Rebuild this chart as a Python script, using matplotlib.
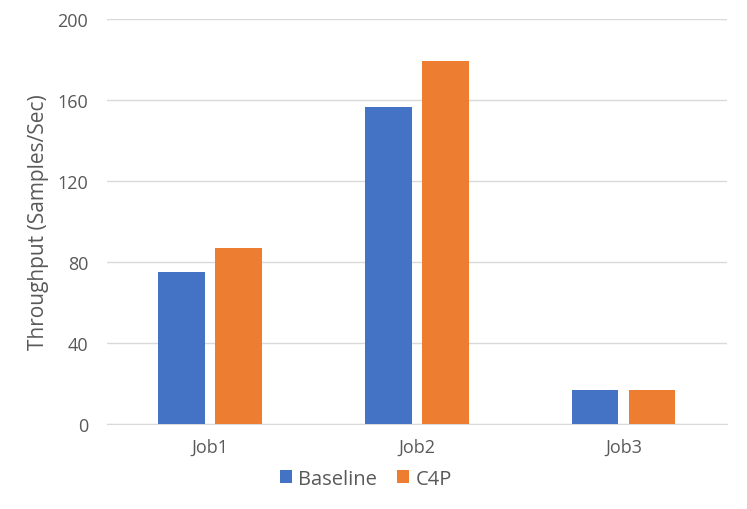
import numpy as np
import matplotlib.pyplot as plt

jobs = ['Job1', 'Job2', 'Job3']
baseline = [75, 156.5, 16.7]
c4p = [87, 179, 16.7]
yticks = [0, 40, 80, 120, 160, 200]

plt.rcParams['font.family'] = ['Open Sans', 'DejaVu Sans']
text_color = '#595959'

fig = plt.figure(figsize=(7.47, 5.1), dpi=100)
ax = fig.add_axes([0.143, 0.167, 0.830, 0.794])

x = np.arange(len(jobs))
w = 0.227
ax.bar(x - 0.138, baseline, w, color='#4472C4', label='Baseline', zorder=3)
ax.bar(x + 0.138, c4p, w, color='#ED7D31', label='C4P', zorder=3)

ax.set_xlim(-0.5, 2.5)
ax.set_ylim(0, 200)
ax.set_yticks(yticks)
ax.set_xticks(x, jobs)
ax.grid(axis='y', color='#D9D9D9', linewidth=1, zorder=0)
for side in ['top', 'right', 'left']:
    ax.spines[side].set_visible(False)
ax.spines['bottom'].set_color('#D9D9D9')
ax.tick_params(axis='both', length=0, colors=text_color, labelsize=13)
ax.tick_params(axis='y', pad=13.5)
ax.tick_params(axis='x', pad=10)
ax.set_ylabel('Throughput (Samples/Sec)', color=text_color, fontsize=15, labelpad=6)

fig.legend(loc='center', bbox_to_anchor=(0.49, 0.059), ncol=2, frameon=False,
           fontsize=14.5, labelcolor=text_color, handlelength=0.6, handleheight=0.6,
           handletextpad=0.3, columnspacing=1.0)

fig.savefig('out.png', dpi=100)
